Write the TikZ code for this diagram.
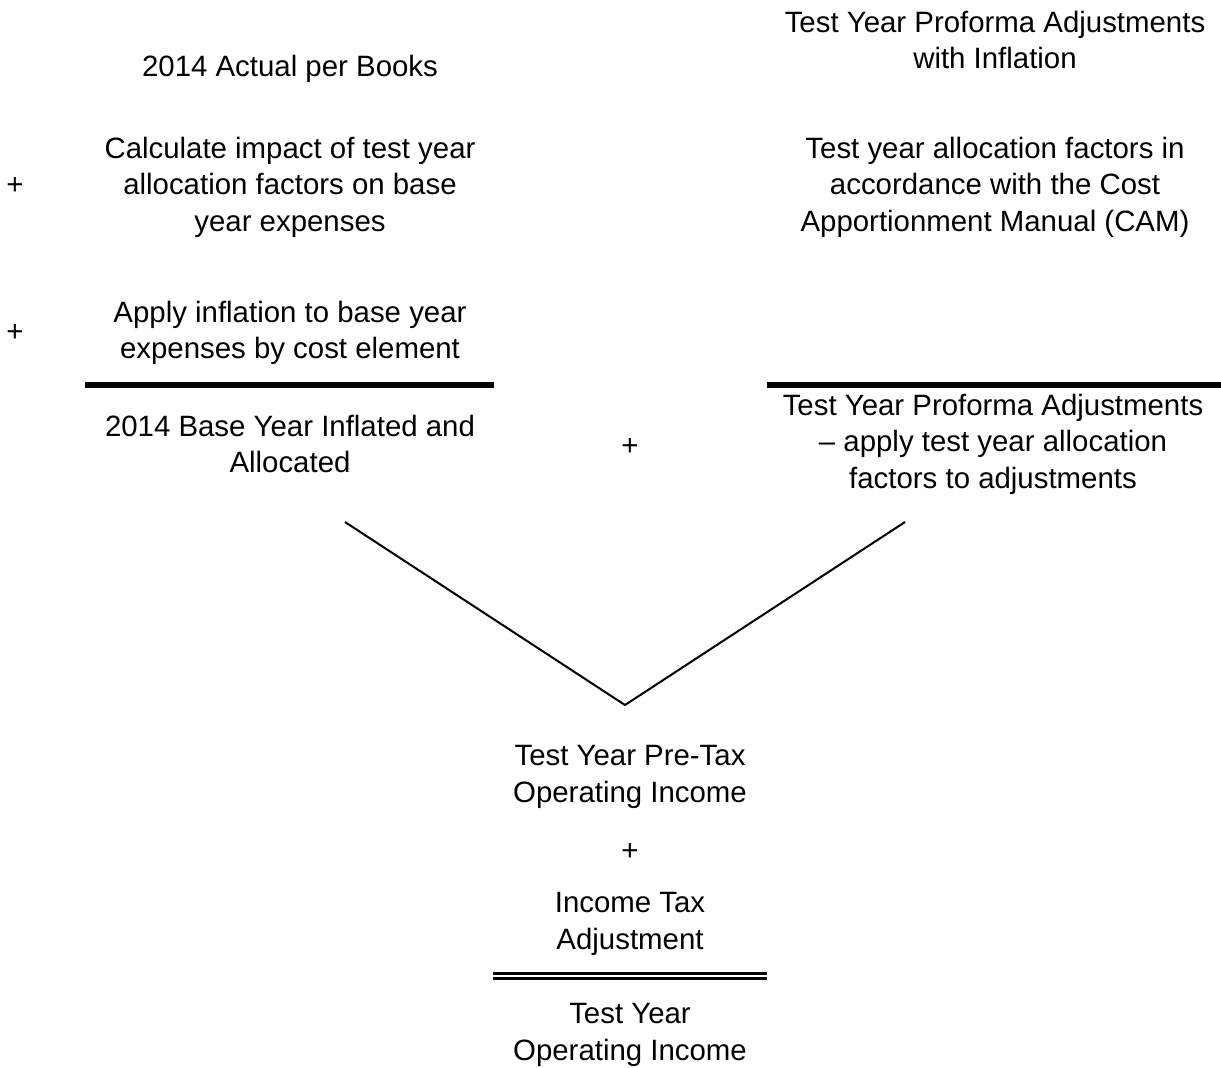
\documentclass[tikz,border=0pt]{standalone}
\usepackage{fontspec}
\setmainfont{Liberation Sans}
\usepackage{tikz}
\usetikzlibrary{positioning}
\tikzset{font=\fontsize{14.7}{18.25}\selectfont}
\tikzset{txt/.style={align=center, inner sep=0pt},
  plus/.style={inner sep=0pt},
  bar/.style={line width=3pt},
  thinbar/.style={line width=1.5pt},
  vline/.style={line width=1pt}}

\begin{document}
\begin{tikzpicture}[x=0.5pt, y=-0.5pt]
  \useasboundingbox (0,0) rectangle (1221,1067);
  % left column
  \node[txt] (actual) at (290,69) {2014 Actual per Books};
  \node[plus] (plusa) at (15,186) {+};
  \node[txt] (impact) at (290,187) {Calculate impact of test year\\allocation factors on base\\year expenses};
  \node[plus] (plusb) at (15,333) {+};
  \node[txt] (inflate) at (290,333) {Apply inflation to base year\\expenses by cost element};
  \draw[bar] (85,385) coordinate (bl1) -- (494,385) coordinate (bl2);
  \node[txt] (base) at (290,444) {2014 Base Year Inflated and\\Allocated};
  % right column
  \node[txt] (proforma) at (995,40) {Test Year Proforma Adjustments\\with Inflation};
  \node[txt] (factors) at (995,187) {Test year allocation factors in\\accordance with the Cost\\Apportionment Manual (CAM)};
  \draw[bar] (767,385) coordinate (br1) -- (1221,385) coordinate (br2);
  \node[txt] (adjust) at (993,444) {Test Year Proforma Adjustments\\– apply test year allocation\\factors to adjustments};
  \node[plus] (plusc) at (630,447) {+};
  % merge
  \coordinate (vl) at (345,522);
  \coordinate (vb) at (625,705);
  \coordinate (vr) at (905,522);
  \draw[vline] (vl) -- (vb) -- (vr);
  \node[txt] (pretax) at (630,777) {Test Year Pre-Tax\\Operating Income};
  \node[plus] (plusd) at (630,852) {+};
  \node[txt] (tax) at (630,924) {Income Tax\\Adjustment};
  \draw[thinbar] (493,973) coordinate (d1) -- (767,973) coordinate (d2);
  \draw[thinbar] (493,978.5) coordinate (d3) -- (767,978.5) coordinate (d4);
  \node[txt] (total) at (630,1035) {Test Year\\Operating Income};
\end{tikzpicture}
\end{document}
